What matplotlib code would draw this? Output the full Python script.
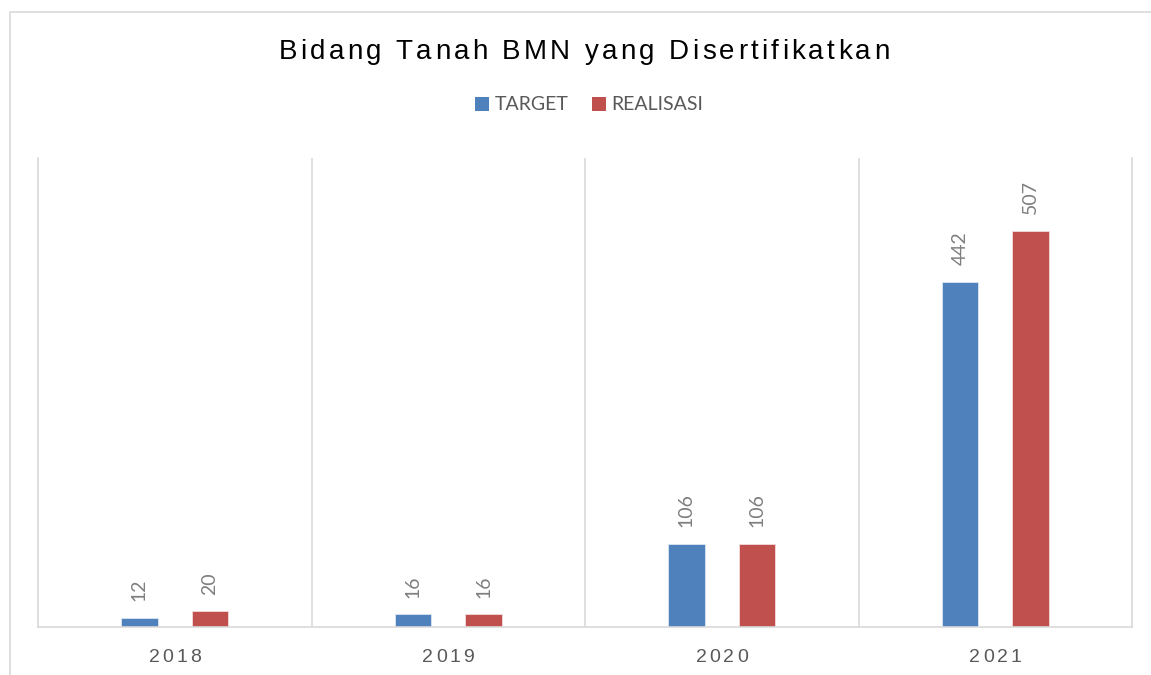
#!/usr/bin/python
# -*- coding: UTF-8 -*-
"""Bidang Tanah BMN yang Disertifikatkan - target vs realisasi."""

import matplotlib
matplotlib.use('Agg')
import matplotlib.pyplot as plt
from matplotlib.patches import Patch, Rectangle
from matplotlib.font_manager import FontProperties, findfont, get_font
import numpy as np

tahun = ['2018', '2019', '2020', '2021']
target = [12, 16, 106, 442]
realisasi = [20, 16, 106, 507]

BIRU = '#4f81bd'
MERAH = '#c0504d'
ABU = '#d9d9d9'

W, H, DPI = 1151, 675, 100


def teks_renggang(fig, cx, y, s, size, spasi, color, family='Liberation Sans'):
    """Tulis teks dengan jarak antar huruf (px), cx dan y dalam piksel."""
    fp = FontProperties(family=family, size=size)
    font = get_font(findfont(fp))
    font.set_size(size, DPI)
    adv = [font.load_char(ord(c)).linearHoriAdvance / 65536.0 for c in s]
    total = sum(adv) + spasi * (len(s) - 1)
    x = cx - total / 2.0
    for c, a in zip(s, adv):
        if c != ' ':
            fig.text(x / W, 1 - y / H, c, fontproperties=fp, color=color,
                     ha='left', va='baseline')
        x += a + spasi


fig = plt.figure(figsize=(W / DPI, H / DPI), dpi=DPI)

# bingkai luar
fig.patches.append(Rectangle((9.5 / W, -0.1), 1.2, (H - 11.5) / H + 0.1,
                             transform=fig.transFigure, fill=False,
                             edgecolor=ABU, linewidth=1.2, clip_on=False))

ax = fig.add_axes([38 / W, (H - 627) / H, (1132 - 38) / W, (627 - 158) / H])

x = np.arange(len(tahun))
lebar = 0.135
geser = 0.129
b1 = ax.bar(x - geser, target, lebar, color=BIRU, edgecolor='#dce6f2', linewidth=0.6)
b2 = ax.bar(x + geser, realisasi, lebar, color=MERAH, edgecolor='#f2dcdb', linewidth=0.6)

for bars, vals in ((b1, target), (b2, realisasi)):
    for r, v in zip(bars, vals):
        ax.annotate(str(v), (r.get_x() + r.get_width() / 2, v), xytext=(0, 12),
                    textcoords='offset points', rotation=90, ha='center',
                    va='bottom', fontsize=14, family='Lato', color='#7f7f7f')

ax.set_xlim(-0.5, len(tahun) - 0.5)
ax.set_ylim(0, 600)
ax.set_yticks([])
ax.set_xticks([])
for i in range(1, len(tahun)):
    ax.axvline(i - 0.5, color=ABU, linewidth=1.2, zorder=0)
ax.spines['top'].set_visible(False)
for s in ('left', 'right', 'bottom'):
    ax.spines[s].set_color(ABU)
    ax.spines[s].set_linewidth(1.2)

# label sumbu x (renggang)
for i, t in enumerate(tahun):
    px = ax.transData.transform((i, 0))[0]
    teks_renggang(fig, px, 662, t, 14, 3.0, '#595959')

teks_renggang(fig, 584, 59, 'Bidang Tanah BMN yang Disertifikatkan', 20, 3.3, '#000000')

handles = [Patch(facecolor=BIRU, label='TARGET'), Patch(facecolor=MERAH, label='REALISASI')]
leg = fig.legend(handles=handles, loc='center', bbox_to_anchor=(589 / W, 1 - 105 / H),
                 ncol=2, frameon=False, prop={'family': 'Lato', 'size': 14},
                 handlelength=0.72, handleheight=0.72, handletextpad=0.28,
                 columnspacing=1.2, labelcolor='#595959')

fig.savefig('out.png', dpi=DPI)
